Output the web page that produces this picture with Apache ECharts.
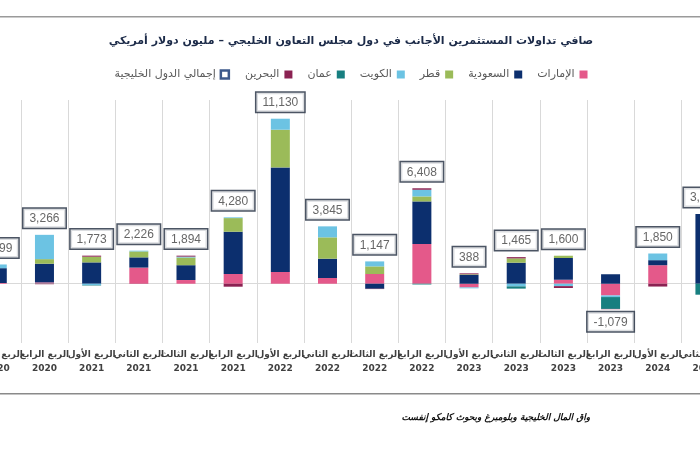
<!DOCTYPE html>
<html>
<head>
<meta charset="utf-8">
<script src="https://cdn.jsdelivr.net/npm/echarts@6/dist/echarts.min.js"></script>
<style>
html,body{margin:0;padding:0;background:#fff;overflow:hidden;width:700px;height:450px;position:relative;}
#c{width:764px;height:450px;position:absolute;left:-31px;top:0;}
</style>
</head>
<body>
<div id="c"></div>
<script>
var quarters = ['الربع الثالث','الربع الرابع','الربع الأول','الربع الثاني','الربع الثالث','الربع الرابع','الربع الأول','الربع الثاني','الربع الثالث','الربع الرابع','الربع الأول','الربع الثاني','الربع الثالث','الربع الرابع','الربع الأول','الربع الثاني'];
var years = ['2020','2020','2021','2021','2021','2021','2022','2022','2022','2022','2023','2023','2023','2023','2024','2024'];

var uae     = [50, 90, 0, 1090, 250, 655, 790, 385, 655, 2680, -250, 0, 270, -790, 1250, 0];
var saudi   = [1000, 1260, 1440, 690, 1000, 2855, 7060, 1305, -340, 2875, 600, 1420, 1465, 640, 340, 4700];
var qatar   = [0, 310, 385, 400, 520, 920, 2545, 1440, 515, 337, 40, 290, 155, 0, 0, 0];
var kuwait  = [250, 1640, -90, 50, 60, 50, 742, 742, 337, 450, -60, -180, -160, -110, 450, 0];
var oman    = [0, -20, -30, 0, 0, 0, 0, 0, 0, -50, 0, -150, 0, -800, 0, -740];
var bahrain = [0, -15, 70, -10, 64, -200, 0, 0, -20, 100, 60, 85, -130, -20, -190, 0];
var gccTotal = [1299, 3266, 1773, 2226, 1894, 4280, 11130, 3845, 1147, 6408, 388, 1465, 1600, -1079, 1850, 3960];

var names = {
  uae: 'الإمارات', saudi: 'السعودية', qatar: 'قطر', kuwait: 'الكويت',
  oman: 'عمان', bahrain: 'البحرين', total: 'إجمالي الدول الخليجية'
};
var colors = {
  uae: '#e4598a', saudi: '#0c2f6e', qatar: '#9bbb59', kuwait: '#6cc3e3',
  oman: '#177f80', bahrain: '#8b2252'
};

var categories = quarters.map(function (q, i) { return q + '\n' + years[i]; });
var seriesKeys = ['uae','saudi','qatar','kuwait','oman','bahrain'];
var seriesData = {uae: uae, saudi: saudi, qatar: qatar, kuwait: kuwait, oman: oman, bahrain: bahrain};

var anchors = gccTotal.map(function (t, i) {
  var pos = 0, neg = 0;
  seriesKeys.forEach(function (k) { var v = seriesData[k][i]; if (v > 0) pos += v; else neg += v; });
  return t >= 0 ? {value: pos, label: {position: 'top', distance: 7}} : {value: neg, label: {position: 'bottom', distance: 3}};
});

var series = seriesKeys.map(function (k, idx) {
  var s = {
    name: names[k], type: 'bar', stack: 'gcc', barWidth: 19,
    itemStyle: {color: colors[k]},
    data: seriesData[k], z: 3
  };
  if (idx === 0) {
    s.markLine = {
      silent: true, symbol: 'none', label: {show: false}, z: 1,
      lineStyle: {color: '#d9d9d9', type: 'solid', width: 1},
      data: [{yAxis: 0}]
    };
  }
  return s;
});

series.push({
  name: names.total, type: 'scatter', symbolSize: 0.1,
  itemStyle: {color: 'rgba(0,0,0,0)'},
  z: 5,
  label: {
    show: true,
    formatter: function (p) { return gccTotal[p.dataIndex].toLocaleString('en-US'); },
    fontFamily: 'Liberation Sans, Arial, sans-serif', fontSize: 12, color: '#404040',
    backgroundColor: '#fff', borderColor: '#1f2b3d', borderWidth: 1.5,
    padding: [4, 6, 3, 6]
  },
  data: anchors
});

var OFF = 31;
var chart = echarts.init(document.getElementById('c'), null, {renderer: 'canvas'});
chart.setOption({
  animation: false,
  backgroundColor: '#fff',
  title: {
    text: 'صافي تداولات المستثمرين الأجانب في دول مجلس التعاون الخليجي – مليون دولار أمريكي',
    left: 'center', top: 31,
    textStyle: {fontFamily: 'DejaVu Sans', fontWeight: 'bold', fontSize: 11, color: '#1b2a48'}
  },
  legend: {
    left: 'center', top: 64, align: 'right',
    itemWidth: 8, itemHeight: 8, itemGap: 15, icon: 'rect',
    textStyle: {fontFamily: 'DejaVu Sans', fontSize: 11, color: '#595959'},
    data: [
      {name: names.total, itemStyle: {color: '#fff', borderColor: '#0c2f6e', borderWidth: 2.5}},
      names.bahrain, names.oman, names.kuwait, names.qatar, names.saudi, names.uae
    ]
  },
  grid: {left: 0, right: 0, top: 100, bottom: 107, containLabel: false},
  xAxis: {
    type: 'category', data: categories, boundaryGap: true,
    axisLine: {show: false}, axisTick: {show: false},
    splitLine: {show: true, lineStyle: {color: '#d9d9d9', width: 1}},
    axisLabel: {
      interval: 0, margin: 5, fontFamily: 'DejaVu Sans', fontWeight: 'bold',
      fontSize: 9, lineHeight: 14, color: '#404040'
    }
  },
  yAxis: {
    type: 'value', min: -4000, max: 12400, show: false,
    splitLine: {show: false}
  },
  graphic: [
    {type: 'rect', shape: {x: 0, y: 16, width: 764, height: 1.5}, style: {fill: '#9a9a9a'}, silent: true},
    {type: 'rect', shape: {x: 0, y: 393, width: 764, height: 1.5}, style: {fill: '#8a8a8a'}, silent: true},
    {type: 'text', x: 590 + OFF, y: 418, silent: true,
      style: {text: 'واق المال الخليجية وبلومبرغ وبحوث كامكو إنفست', align: 'right', verticalAlign: 'middle',
        font: 'italic bold 9px "DejaVu Sans"', fill: '#111'}}
  ],
  series: series
});
</script>
</body>
</html>
